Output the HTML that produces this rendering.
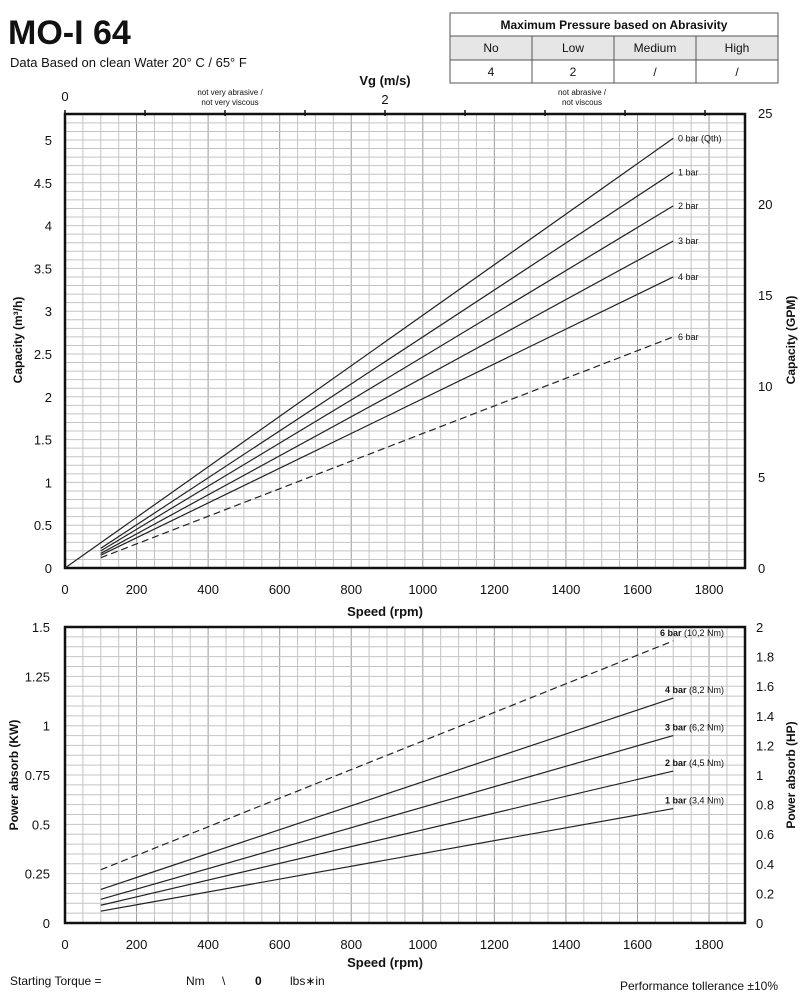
<!DOCTYPE html>
<html><head><meta charset="utf-8">
<style>
body{margin:0;background:#fff;width:807px;height:1000px;overflow:hidden;font-family:"Liberation Sans",sans-serif}
svg text{font-family:"Liberation Sans",sans-serif;fill:#111}
</style></head>
<body>
<svg id="c" width="807" height="1000" xmlns="http://www.w3.org/2000/svg">
<text x="8" y="44" font-size="34" font-weight="bold">MO-I 64</text>
<text x="10" y="67" font-size="13">Data Based on clean Water 20° C  /  65° F</text>
<g>
<rect x="450" y="13" width="328" height="70" fill="#fff" stroke="#555"/>
<rect x="450" y="36" width="328" height="24" fill="#e6e6e6" stroke="#555"/>
<line x1="532" y1="36" x2="532" y2="83" stroke="#555"/><line x1="614" y1="36" x2="614" y2="83" stroke="#555"/><line x1="696" y1="36" x2="696" y2="83" stroke="#555"/>
<text x="614" y="29" font-size="12" font-weight="bold" text-anchor="middle">Maximum Pressure based on Abrasivity</text>
<text x="491" y="52" font-size="12" text-anchor="middle">No</text><text x="573" y="52" font-size="12" text-anchor="middle">Low</text><text x="655" y="52" font-size="12" text-anchor="middle">Medium</text><text x="737" y="52" font-size="12" text-anchor="middle">High</text>
<text x="491" y="76" font-size="12" text-anchor="middle">4</text><text x="573" y="76" font-size="12" text-anchor="middle">2</text><text x="655" y="76" font-size="12" text-anchor="middle">/</text><text x="737" y="76" font-size="12" text-anchor="middle">/</text>
</g>
<text x="65" y="101" font-size="13" text-anchor="middle">0</text>
<text x="385" y="104" font-size="13" text-anchor="middle">2</text>
<text x="385" y="85" font-size="13" font-weight="bold" text-anchor="middle">Vg (m/s)</text>
<text x="230" y="95" font-size="8" text-anchor="middle">not very abrasive /</text>
<text x="230" y="105" font-size="8" text-anchor="middle">not very viscous</text>
<text x="582" y="95" font-size="8" text-anchor="middle">not  abrasive /</text>
<text x="582" y="105" font-size="8" text-anchor="middle">not  viscous</text>
<g id="g"></g>
<text x="385" y="616" font-size="13" font-weight="bold" text-anchor="middle">Speed (rpm)</text>
<text x="385" y="967" font-size="13" font-weight="bold" text-anchor="middle">Speed (rpm)</text>
<text transform="translate(22,340) rotate(-90)" font-size="12" font-weight="bold" text-anchor="middle">Capacity (m³/h)</text>
<text transform="translate(795,340) rotate(-90)" font-size="12" font-weight="bold" text-anchor="middle">Capacity (GPM)</text>
<text transform="translate(18,775) rotate(-90)" font-size="12" font-weight="bold" text-anchor="middle">Power absorb (KW)</text>
<text transform="translate(795,775) rotate(-90)" font-size="12" font-weight="bold" text-anchor="middle">Power absorb (HP)</text>
<text x="10" y="985" font-size="12">Starting Torque =</text>
<text x="186" y="985" font-size="12">Nm</text><text x="222" y="985" font-size="12">\</text>
<text x="255" y="985" font-size="12" font-weight="bold">0</text><text x="290" y="985" font-size="12">lbs∗in</text>
<text x="778" y="990" font-size="12" text-anchor="end">Performance tollerance ±10%</text>
</svg>
<script>
const capLabels=["0 bar (Qth)","1 bar","2 bar","3 bar","4 bar","6 bar"];
const capStartRpm=[0,100,100,100,100,100];
const capStart=[0,0.23,0.2,0.17,0.15,0.12];
const capEnd=[5.02,4.62,4.23,3.82,3.4,2.7];
const capDash=[0,0,0,0,0,1];
const powLabels=["6 bar","4 bar","3 bar","2 bar","1 bar"];
const powTorque=["(10,2 Nm)","(8,2 Nm)","(6,2 Nm)","(4,5 Nm)","(3,4 Nm)"];
const powStart=[0.27,0.17,0.12,0.09,0.06];
const powEnd=[1.43,1.14,0.95,0.77,0.58];
const powDash=[1,0,0,0,0];
const endRpm=1700;
const xTicks=[0,200,400,600,800,1000,1200,1400,1600,1800];
const capTicks=[0,0.5,1,1.5,2,2.5,3,3.5,4,4.5,5];
const gpmTicks=[0,5,10,15,20,25];
const kwTicks=[0,0.25,0.5,0.75,1,1.25,1.5];
const hpTicks=[0,0.2,0.4,0.6,0.8,1,1.2,1.4,1.6,1.8,2];
const NS="http://www.w3.org/2000/svg",G=document.getElementById('g');
const X=v=>65+v*0.3578;
const Y1=v=>568-v*85.6, G1=v=>568-v*18.2;
const Y2=v=>923-v*197.3, H2=v=>923-v*148;
function el(t,a){const e=document.createElementNS(NS,t);for(const k in a)e.setAttribute(k,a[k]);G.appendChild(e);return e;}
function txt(x,y,s,anc,sz){const e=el('text',{x:x,y:y,'font-size':sz||13,'text-anchor':anc});e.textContent=s;return e;}
function frame(top,bot,Y,step,maxv,name){
  for(let r=0;r<=1900;r+=50){const l=el('line',{x1:X(r),y1:top,x2:X(r),y2:bot,stroke:r%200==0?'#999':'#c4c4c4','stroke-width':1});
  }
  for(let i=0;i*step<=maxv+1e-9;i++){const y=Y(i*step);const l=el('line',{x1:65,y1:y,x2:745,y2:y,stroke:'#c4c4c4','stroke-width':1});
  }
  const r=el('rect',{x:65,y:top,width:680,height:bot-top,fill:'none',stroke:'#111','stroke-width':2.5});
  
  xTicks.forEach(t=>{const e=txt(X(t),bot+26,String(t),'middle');});
}
frame(114,568,Y1,0.1,5.3,'capacity');
frame(627,923,Y2,0.05,1.5,'power');
for(let i=0;i<=8;i++){el('line',{x1:65+i*80,y1:110,x2:65+i*80,y2:116,stroke:'#111','stroke-width':1.5});}
capTicks.forEach(t=>{const e=txt(52,Y1(t)+5,String(t),'end');});
gpmTicks.forEach(t=>{const e=txt(758,G1(t)+5,String(t),'start');});
kwTicks.forEach(t=>{const e=txt(50,Y2(t)+5,String(t),'end');});
hpTicks.forEach(t=>{const e=txt(756,H2(t)+5,String(t),'start');});
capLabels.forEach((s,i)=>{
  const l=el('line',{x1:X(capStartRpm[i]),y1:Y1(capStart[i]),x2:X(endRpm),y2:Y1(capEnd[i]),stroke:'#222','stroke-width':1.2,'stroke-dasharray':capDash[i]?'7,4':'none'});
  
  const t=txt(678,Y1(capEnd[i])+3,s,'start',9);
});
powLabels.forEach((s,i)=>{
  const l=el('line',{x1:X(100),y1:Y2(powStart[i]),x2:X(endRpm),y2:Y2(powEnd[i]),stroke:'#222','stroke-width':1.2,'stroke-dasharray':powDash[i]?'7,4':'none'});
  
  const t=el('text',{x:724,y:Y2(powEnd[i])-5,'font-size':9,'text-anchor':'end'});
  t.innerHTML='<tspan font-weight="bold">'+s+'</tspan> '+powTorque[i];
  
});
</script>
</body></html>
